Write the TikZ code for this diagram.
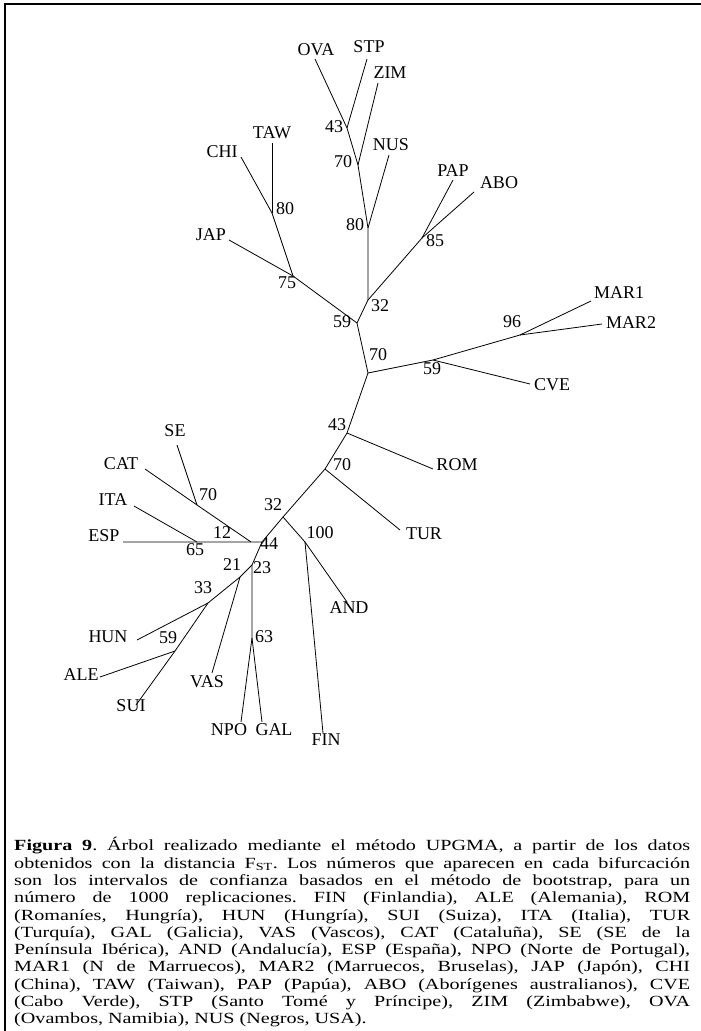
\documentclass[tikz,border=0pt]{standalone}
\usepackage{fontspec}
\setmainfont{Liberation Serif}
\newfontfamily\capfont[FakeStretch=1.3]{Liberation Serif}
\begin{document}
\frenchspacing
\begin{tikzpicture}[x=1pt,y=-1pt,
  br/.style={line width=0.8pt},
  frame/.style={line width=1.6pt},
  lab/.style={inner sep=0pt, font=\fontsize{18}{18}\selectfont, text height=0.66em, text depth=0pt},
  capt/.style={anchor=north west, inner sep=0pt, text width=676pt, align=justify, font=\capfont\fontsize{15.5}{17.3}\selectfont}]
\useasboundingbox (0,0) rectangle (701,1031);
\coordinate (fTL) at (5,4);
\coordinate (fTR) at (701,4);
\coordinate (fBL) at (5,1031);
\draw[frame] (fBL) -- (fTL) -- (fTR);

% internal nodes
\coordinate (a43) at (347,128);
\coordinate (a70) at (358,165);
\coordinate (a80) at (368,228);
\coordinate (a32) at (368,300);
\coordinate (a85) at (422,238);
\coordinate (a59) at (357,323);
\coordinate (a75) at (293,276);
\coordinate (b80) at (272,213);
\coordinate (c70) at (368,373);
\coordinate (b59) at (433,360);
\coordinate (c96) at (520,335);
\coordinate (b43) at (347,433);
\coordinate (d70) at (325,469);
\coordinate (b32) at (283,517);
\coordinate (n100) at (305,542);
\coordinate (n44) at (262,542);
\coordinate (n12) at (251,542);
\coordinate (n65) at (197,542);
\coordinate (e70) at (197,505);
\coordinate (n23) at (252,565);
\coordinate (n63) at (252,638);
\coordinate (n21) at (240,577);
\coordinate (n33) at (208,603);
\coordinate (c59) at (175,651);

% leaf ends
\coordinate (eOVA) at (315,59);
\coordinate (eSTP) at (367,59);
\coordinate (eZIM) at (378,83);
\coordinate (eNUS) at (389,155);
\coordinate (ePAP) at (453,180);
\coordinate (eABO) at (474,192);
\coordinate (eJAP) at (229,240);
\coordinate (eCHI) at (241,157);
\coordinate (eTAW) at (272,143);
\coordinate (eMAR1) at (591,301);
\coordinate (eMAR2) at (602,324);
\coordinate (eCVE) at (530,384);
\coordinate (eROM) at (433,469);
\coordinate (eTUR) at (400,530);
\coordinate (eAND) at (347,602);
\coordinate (eFIN) at (323,733);
\coordinate (eSE) at (177,445);
\coordinate (eCAT) at (145,469);
\coordinate (eITA) at (134,506);
\coordinate (eESP) at (123,542);
\coordinate (eHUN) at (137,640);
\coordinate (eALE) at (100,677);
\coordinate (eSUI) at (136,705);
\coordinate (eVAS) at (212,673);
\coordinate (eNPO) at (241,722);
\coordinate (eGAL) at (262,722);

% branches
\draw[br] (eOVA) -- (a43) -- (a70) -- (a80) -- (a32) -- (a59) -- (c70) -- (b43) -- (d70) -- (b32) -- (n44) -- (n12) -- (n65) -- (eESP);
\draw[br] (eSTP) -- (a43);
\draw[br] (eZIM) -- (a70);
\draw[br] (eNUS) -- (a80);
\draw[br] (a32) -- (a85);
\draw[br] (a85) -- (ePAP);
\draw[br] (a85) -- (eABO);
\draw[br] (a59) -- (a75);
\draw[br] (a75) -- (eJAP);
\draw[br] (a75) -- (b80);
\draw[br] (b80) -- (eCHI);
\draw[br] (b80) -- (eTAW);
\draw[br] (c70) -- (b59);
\draw[br] (b59) -- (c96);
\draw[br] (c96) -- (eMAR1);
\draw[br] (c96) -- (eMAR2);
\draw[br] (b59) -- (eCVE);
\draw[br] (b43) -- (eROM);
\draw[br] (d70) -- (eTUR);
\draw[br] (b32) -- (n100);
\draw[br] (n100) -- (eAND);
\draw[br] (n100) -- (eFIN);
\draw[br] (n12) -- (e70) -- (eCAT);
\draw[br] (e70) -- (eSE);
\draw[br] (n65) -- (eITA);
\draw[br] (n44) -- (n23) -- (n63);
\draw[br] (n63) -- (eNPO);
\draw[br] (n63) -- (eGAL);
\draw[br] (n23) -- (n21) -- (n33) -- (c59);
\draw[br] (n21) -- (eVAS);
\draw[br] (n33) -- (eHUN);
\draw[br] (c59) -- (eALE);
\draw[br] (c59) -- (eSUI);

% leaf labels
\node[lab] (lOVA) at (316,52) {OVA};
\node[lab] (lSTP) at (369,49) {STP};
\node[lab] (lZIM) at (390,75) {ZIM};
\node[lab] (lNUS) at (391,147) {NUS};
\node[lab] (lTAW) at (272,135) {TAW};
\node[lab] (lCHI) at (222,154) {CHI};
\node[lab] (lJAP) at (211,237) {JAP};
\node[lab] (lPAP) at (453,173) {PAP};
\node[lab] (lABO) at (499,185) {ABO};
\node[lab] (lMAR1) at (619,295) {MAR1};
\node[lab] (lMAR2) at (631,325) {MAR2};
\node[lab] (lCVE) at (552,387) {CVE};
\node[lab] (lROM) at (457,467) {ROM};
\node[lab] (lTUR) at (424,536) {TUR};
\node[lab] (lAND) at (349,610) {AND};
\node[lab] (lFIN) at (326,742) {FIN};
\node[lab] (lSE) at (175,433) {SE};
\node[lab] (lCAT) at (121,466) {CAT};
\node[lab] (lITA) at (113,502) {ITA};
\node[lab] (lESP) at (104,538) {ESP};
\node[lab] (lHUN) at (108,639) {HUN};
\node[lab] (lALE) at (81,677) {ALE};
\node[lab] (lSUI) at (131,708) {SUI};
\node[lab] (lVAS) at (207,684) {VAS};
\node[lab] (lNPO) at (229,732) {NPO};
\node[lab] (lGAL) at (274,732) {GAL};

% bootstrap values
\node[lab] (v1) at (334,129) {43};
\node[lab] (v2) at (343,164) {70};
\node[lab] (v3) at (355,227) {80};
\node[lab] (v4) at (285,211) {80};
\node[lab] (v5) at (435,243) {85};
\node[lab] (v6) at (380,308) {32};
\node[lab] (v7) at (342,324) {59};
\node[lab] (v8) at (378,357) {70};
\node[lab] (v9) at (287,285) {75};
\node[lab] (v10) at (512,324) {96};
\node[lab] (v11) at (432,371) {59};
\node[lab] (v12) at (337,427) {43};
\node[lab] (v13) at (342,467) {70};
\node[lab] (v14) at (273,507) {32};
\node[lab] (v15) at (320,535) {100};
\node[lab] (v16) at (269,546) {44};
\node[lab] (v17) at (222,535) {12};
\node[lab] (v18) at (195,552) {65};
\node[lab] (v19) at (208,497) {70};
\node[lab] (v20) at (232,567) {21};
\node[lab] (v21) at (262,570) {23};
\node[lab] (v22) at (203,590) {33};
\node[lab] (v23) at (168,640) {59};
\node[lab] (v24) at (264,639) {63};

% caption
\node[capt] (cap) at (14,837.3) {\textbf{Figura 9}. Árbol realizado mediante el método UPGMA, a partir de los datos\linebreak
obtenidos con la distancia F\textsubscript{ST}. Los números que aparecen en cada bifurcación\linebreak
son los intervalos de confianza basados en el método de bootstrap, para un\linebreak
número de 1000 replicaciones. FIN (Finlandia), ALE (Alemania), ROM\linebreak
(Romaníes, Hungría), HUN (Hungría), SUI (Suiza), ITA (Italia), TUR\linebreak
(Turquía), GAL (Galicia), VAS (Vascos), CAT (Cataluña), SE (SE de la\linebreak
Península Ibérica), AND (Andalucía), ESP (España), NPO (Norte de Portugal),\linebreak
MAR1 (N de Marruecos), MAR2 (Marruecos, Bruselas), JAP (Japón), CHI\linebreak
(China), TAW (Taiwan), PAP (Papúa), ABO (Aborígenes australianos), CVE\linebreak
(Cabo Verde), STP (Santo Tomé y Príncipe), ZIM (Zimbabwe), OVA\linebreak
(Ovambos, Namibia), NUS (Negros, USA).};
\end{tikzpicture}
\end{document}
